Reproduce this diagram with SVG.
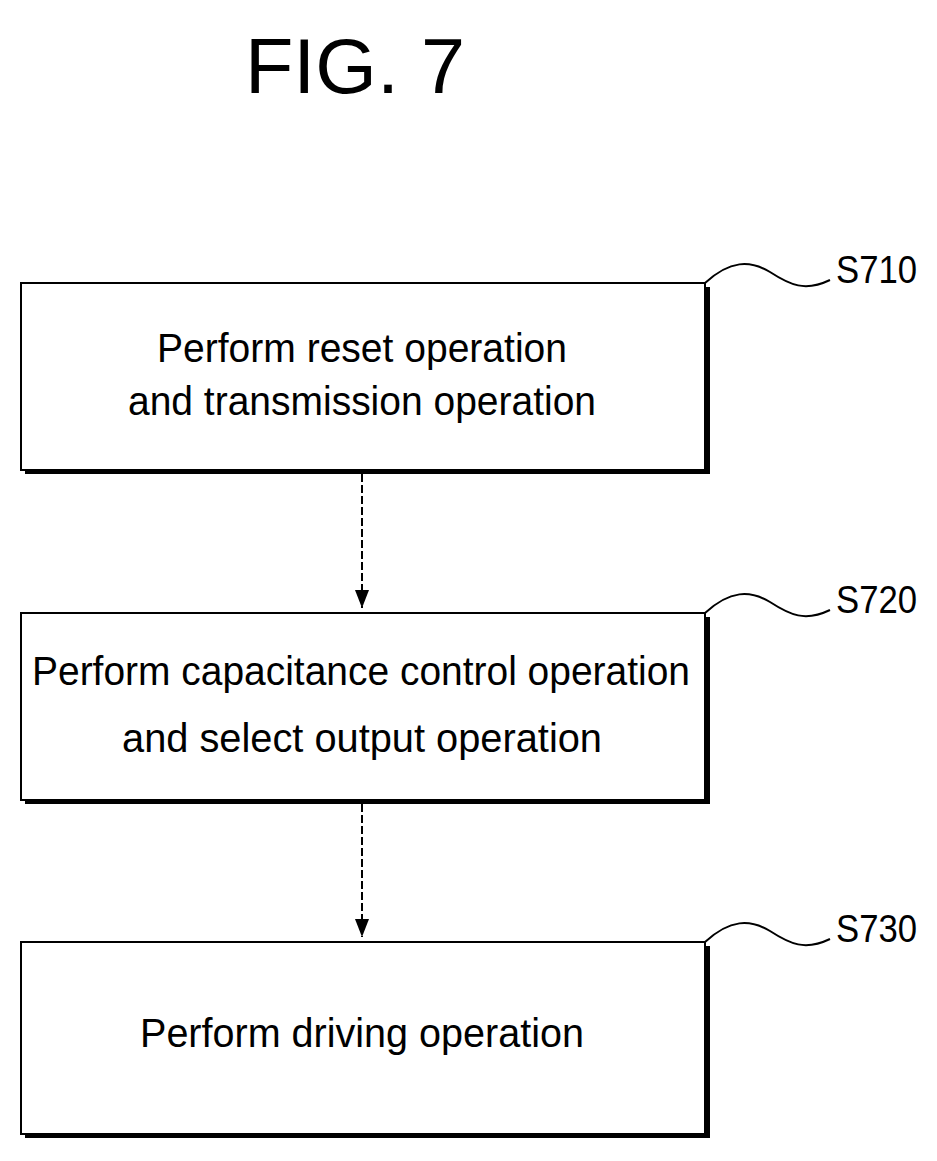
<svg xmlns="http://www.w3.org/2000/svg" width="937" height="1161" viewBox="0 0 937 1161">
<style>
.box{fill:#fff;stroke:#000;stroke-width:2}
.sh{fill:#000}
.t{font-family:"Liberation Sans",sans-serif;font-size:40px;fill:#000;text-anchor:middle}
.lbl{font-family:"Liberation Sans",sans-serif;font-size:38px;fill:#000}
.c{fill:none;stroke:#000;stroke-width:2}
</style>
<defs><marker id="ah" markerWidth="18" markerHeight="14" refX="18" refY="7" orient="auto" markerUnits="userSpaceOnUse"><path d="M0,0 L18,7 L0,14 Z" fill="#000"/></marker></defs>
<rect width="937" height="1161" fill="#fff"/>
<text x="355" y="93" font-family="Liberation Sans,sans-serif" font-size="78" fill="#000" text-anchor="middle" textLength="220" lengthAdjust="spacingAndGlyphs">FIG. 7</text>
<g id="n1">
<rect class="sh" x="25" y="287" width="685" height="187"/>
<rect class="box" x="21" y="283" width="684" height="187"/>
<text class="t" x="362" y="362" textLength="410" lengthAdjust="spacingAndGlyphs">Perform reset operation</text>
<text class="t" x="362" y="415" textLength="468" lengthAdjust="spacingAndGlyphs">and transmission operation</text>
<path class="c" d="M705,283 C730,260 750,260 770,272 C790,285 805,292 830,280"/>
<text class="lbl" x="836" y="283" textLength="81" lengthAdjust="spacingAndGlyphs">S710</text>
</g>
<g id="n2">
<rect class="sh" x="25" y="617" width="685" height="187"/>
<rect class="box" x="21" y="613" width="684" height="187"/>
<text class="t" x="361" y="685" textLength="658" lengthAdjust="spacingAndGlyphs">Perform capacitance control operation</text>
<text class="t" x="362" y="752" textLength="480" lengthAdjust="spacingAndGlyphs">and select output operation</text>
<path class="c" d="M705,613 C730,590 750,590 770,602 C790,615 805,622 830,610"/>
<text class="lbl" x="836" y="613" textLength="81" lengthAdjust="spacingAndGlyphs">S720</text>
</g>
<g id="n3">
<rect class="sh" x="25" y="946" width="685" height="192"/>
<rect class="box" x="21" y="942" width="684" height="192"/>
<text class="t" x="362" y="1047" textLength="444" lengthAdjust="spacingAndGlyphs">Perform driving operation</text>
<path class="c" d="M705,942 C730,919 750,919 770,931 C790,944 805,951 830,939"/>
<text class="lbl" x="836" y="942" textLength="81" lengthAdjust="spacingAndGlyphs">S730</text>
</g>
<g id="connectors">
<line class="c" x1="362" y1="474" x2="362" y2="608" stroke-dasharray="8,3" marker-end="url(#ah)"/>
<line class="c" x1="362" y1="804" x2="362" y2="937" stroke-dasharray="8,3" marker-end="url(#ah)"/>
</g>
</svg>
